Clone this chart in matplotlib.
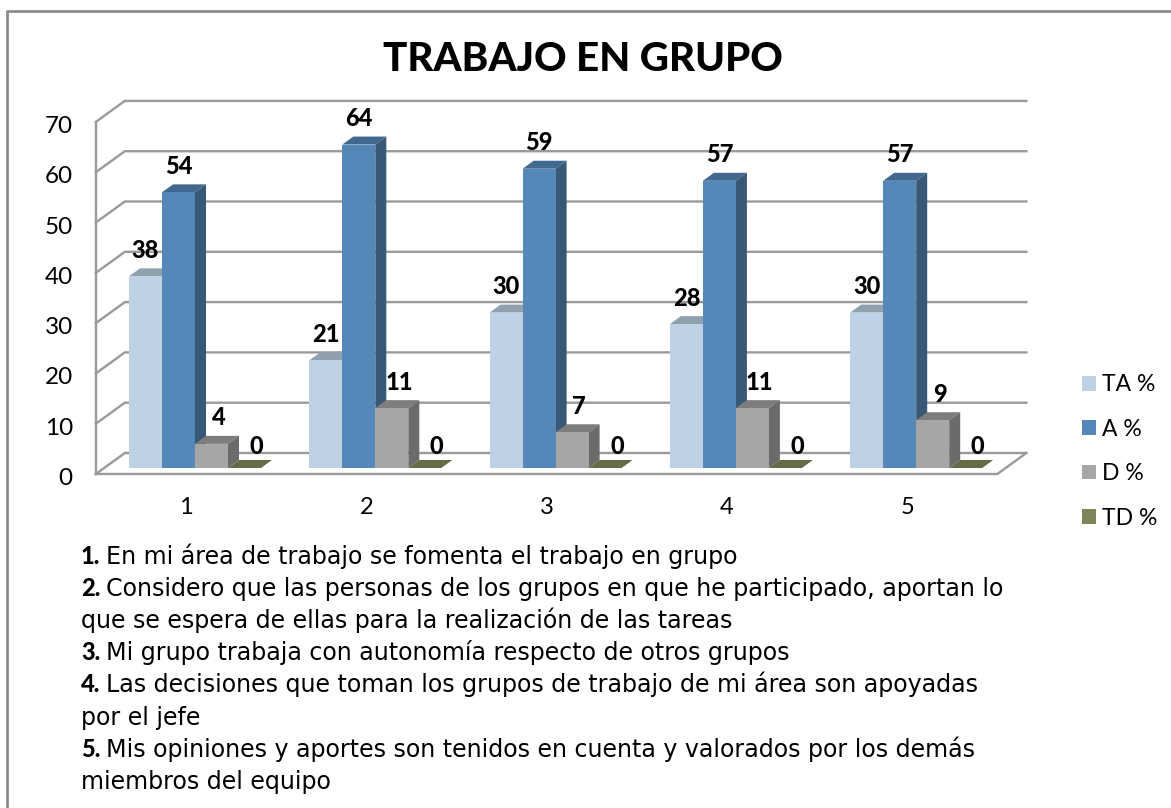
import matplotlib
matplotlib.use('Agg')
import matplotlib.pyplot as plt
from matplotlib.patches import Polygon

W, H = 1171, 808

categories = [1, 2, 3, 4, 5]
series_names = ['TA %', 'A %', 'D %', 'TD %']
ta = [38.1, 21.4, 30.9, 28.6, 30.9]
a = [54.8, 64.3, 59.5, 57.1, 57.1]
d = [4.8, 11.9, 7.1, 11.9, 9.5]
td = [0, 0, 0, 0, 0]
y_ticks = [0, 10, 20, 30, 40, 50, 60, 70]

title = 'TRABAJO EN GRUPO'
notes = [
    ('1.', 'En mi área de trabajo se fomenta el trabajo en grupo'),
    ('2.', 'Considero que las personas de los grupos en que he participado, aportan lo'),
    ('', 'que se espera de ellas para la realización de las tareas'),
    ('3.', 'Mi grupo trabaja con autonomía respecto de otros grupos'),
    ('4.', 'Las decisiones que toman los grupos de trabajo de mi área son apoyadas'),
    ('', 'por el jefe'),
    ('5.', 'Mis opiniones y aportes son tenidos en cuenta y valorados por los demás'),
    ('', 'miembros del equipo'),
]

front_cols = ['#BFD2E5', '#5587B9', '#A6A6A6', '#7F855A']
top_cols = ['#8FA0AE', '#41698F', '#7D7D7D', '#666B45']
side_cols = ['#8FA0AE', '#375876', '#6B6B6B', '#666B45']
label_shift = [0, 0, 7, 12]
label_lift = [26, 26, 26, 21]
grid_col = '#9A9A9A'

plt.rcParams['font.family'] = ['Lato', 'DejaVu Sans']

fig = plt.figure(figsize=(W / 100, H / 100), dpi=100)

# axes box = plane of the bar fronts
left, right, bottom, top = 104.85, 1006.35, 468, 115.9
ax = fig.add_axes([left / W, 1 - bottom / H, (right - left) / W, (bottom - top) / H])
ax.set_xlim(0.5, 5.5)
ax.set_ylim(0, 70)
ax.axis('off')

px = 5 / (right - left)
py = 70 / (bottom - top)
bar_w = 33 * px
depth_x = 11 * px
depth_y = 8 * py

# frame, only top and left are visible
fig.add_artist(plt.Line2D([7 / W, 7 / W, 1], [0, 1 - 11 / H, 1 - 11 / H], color='#8C8C8C', lw=2))

# walls
fx, fy = -9 * px, -6 * py
bx, by = 20 * px, 15 * py
x0, x1 = 0.5, 5.5
for v in y_ticks:
    ax.plot([x0 + fx, x0 + bx, x1 + bx], [v + fy, v + by, v + by], color=grid_col, lw=1.7,
            clip_on=False, zorder=1, solid_joinstyle='miter')
    ax.text(x0 + fx - 23 * px, v + fy - 4.5 * py, str(v), ha='right', va='center', fontsize=17.5, color='black')
ax.plot([x0 + fx, x0 + fx], [fy, 70 + fy], color=grid_col, lw=1.7, clip_on=False, zorder=1)
ax.plot([x0 + fx, x1 + fx, x1 + bx], [fy, fy, by], color=grid_col, lw=1.7, clip_on=False, zorder=1)

for c in categories:
    ax.text(c + fx, -39 * py, str(c), ha='center', va='center', fontsize=17, color='black')

# bars
all_series = [ta, a, d, td]
for i, vals in enumerate(all_series):
    xs = [c + (i - 1.5) * bar_w for c in categories]
    ax.bar(xs, vals, width=bar_w, color=front_cols[i], lw=0, zorder=3 + i * 2 + 1, label=series_names[i])
    for x, v in zip(xs, vals):
        xl, xr = x - bar_w / 2, x + bar_w / 2
        ax.add_patch(Polygon([(xl, v), (xr, v), (xr + depth_x, v + depth_y), (xl + depth_x, v + depth_y)],
                             color=top_cols[i], lw=0, zorder=3 + i * 2, clip_on=False))
        ax.add_patch(Polygon([(xr, 0), (xr, v), (xr + depth_x, v + depth_y), (xr + depth_x, depth_y)],
                             color=side_cols[i], lw=0, zorder=3 + i * 2, clip_on=False))
        ax.text(x + label_shift[i] * px, v + label_lift[i] * py, str(int(v)), ha='center', va='center',
                fontsize=17, fontweight=900, color='black', zorder=20, clip_on=False)

leg = ax.legend(loc='center left', bbox_to_anchor=(1082 / W, 1 - 451.5 / H), bbox_transform=fig.transFigure,
                frameon=False, fontsize=16.5, handlelength=0.6, handleheight=0.6, handletextpad=0.26,
                labelspacing=1.02, borderpad=0, borderaxespad=0)
for t in leg.get_texts():
    t.set_color('black')

fig.text(583 / W, 1 - 71 / H, title, ha='center', va='baseline', fontsize=29, fontweight=900, color='black')

# notes below the chart, bold number then normal text
renderer = fig.canvas.get_renderer()
base = 564
for i, (num, txt) in enumerate(notes):
    y = 1 - (base + i * 32.1) / H
    x = 81
    if num:
        t = fig.text(x / W, y, num, fontsize=17, fontweight=900, va='baseline', color='black')
        x = t.get_window_extent(renderer).x1 + 6
    fig.text(x / W, y, txt, fontsize=17.1, va='baseline', color='black', family=['DejaVu Sans'])

fig.savefig('out.png', dpi=100, facecolor='white')
